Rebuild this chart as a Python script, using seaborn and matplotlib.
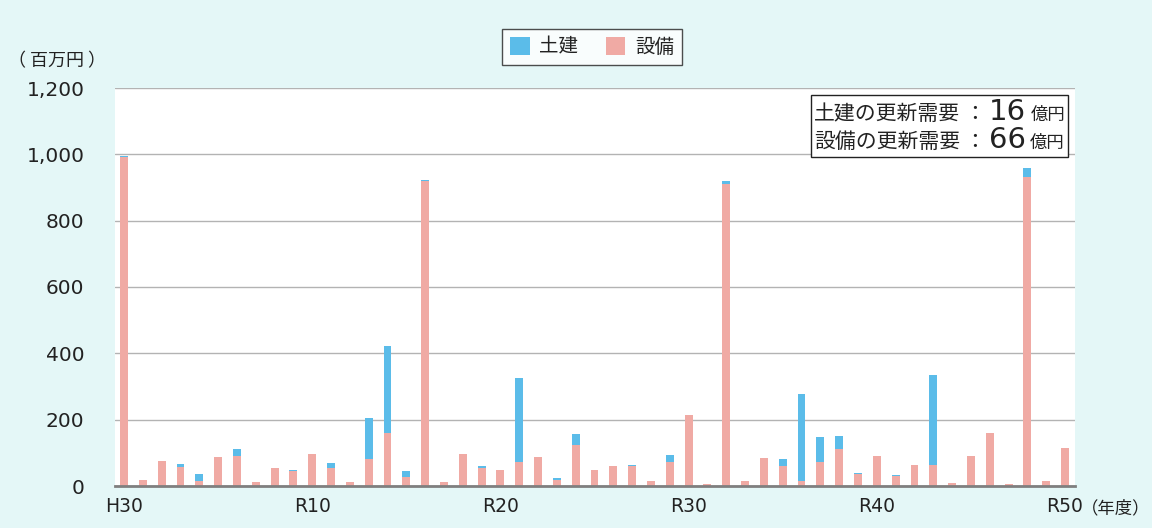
import matplotlib
matplotlib.use("Agg")
import matplotlib.pyplot as plt
from matplotlib.ticker import FuncFormatter
from matplotlib.offsetbox import TextArea, HPacker, VPacker, AnchoredOffsetbox
from matplotlib.patches import Patch
import seaborn as sns
import pandas as pd

# Fiscal years: H30 followed by R1 .. R50
years = ["H30"] + [f"R{i}" for i in range(1, 51)]

# Renewal demand per year (million yen)
civil = [2, 0, 0, 9, 19, 0, 22, 0, 0, 3, 0, 13, 0, 126, 262, 17, 2, 0, 0, 6,
         0, 254, 0, 5, 32, 0, 0, 5, 0, 19, 0, 0, 9, 0, 0, 20, 264, 74, 39, 2,
         0, 4, 2, 274, 0, 0, 0, 0, 27, 0, 0]
equipment = [992, 17, 74, 56, 16, 86, 91, 11, 55, 44, 95, 55, 11, 80, 161, 27,
             920, 12, 97, 55, 47, 73, 86, 18, 124, 47, 59, 59, 14, 73, 213, 5,
             912, 16, 85, 60, 14, 73, 112, 37, 90, 29, 62, 62, 8, 89, 161, 7,
             933, 14, 116]

tick_years = ["H30", "R10", "R20", "R30", "R40", "R50"]
y_ticks = [0, 200, 400, 600, 800, 1000, 1200]
series_names = ["土建", "設備"]
summary_labels = ["土建の更新需要", "設備の更新需要"]
summary_values = ["16", "66"]
summary_unit = "億円"

COLOR_CIVIL = "#5bbce9"
COLOR_EQUIP = "#f0aaa4"
BG = "#e4f7f7"
TEXT = "#222222"
JP = ["Noto Sans CJK JP", "DejaVu Sans"]

sns.set_theme(style="white")
plt.rcParams["font.family"] = ["DejaVu Sans", "Noto Sans CJK JP"]

df = pd.DataFrame({"year": years, "civil": civil, "equipment": equipment})
df["total"] = df["civil"] + df["equipment"]

fig = plt.figure(figsize=(11.52, 5.28), dpi=100, facecolor=BG)
ax = fig.add_axes([115 / 1152, 42 / 528, 960 / 1152, 398 / 528])
ax.set_facecolor("white")

# Stacked bars: total in the civil colour, equipment drawn over it from zero
sns.barplot(data=df, x="year", y="total", order=years, color=COLOR_CIVIL,
            width=0.42, saturation=1, ax=ax, zorder=3, linewidth=0)
sns.barplot(data=df, x="year", y="equipment", order=years, color=COLOR_EQUIP,
            width=0.42, saturation=1, ax=ax, zorder=4, linewidth=0)

ax.set_xlim(-0.48, 50.53)
ax.set_ylim(0, 1200)
ax.set_yticks(y_ticks)
ax.yaxis.set_major_formatter(FuncFormatter(lambda v, p: f"{int(v):,}"))
ax.set_xticks([years.index(t) for t in tick_years])
ax.set_xticklabels(tick_years)
ax.set_xlabel("")
ax.set_ylabel("")

ax.grid(axis="y", color="#b3b3b3", linewidth=1.0, zorder=0)
ax.grid(axis="x", visible=False)
for side in ("left", "right", "top"):
    ax.spines[side].set_visible(False)
ax.spines["bottom"].set_color("#7f7f7f")
ax.spines["bottom"].set_linewidth(2.0)
ax.spines["bottom"].set_zorder(5)

ax.tick_params(axis="y", length=0, pad=22, labelsize=14.5, colors=TEXT)
ax.tick_params(axis="x", length=0, pad=8, labelsize=13.5, colors=TEXT)

# Axis units
fig.text(57 / 1152, 1 - 61 / 528, "（ 百万円 ）", ha="center", va="center",
         fontsize=13, color=TEXT, family=JP)
fig.text(1116 / 1152, 1 - 508 / 528, "（年度）", ha="center", va="center",
         fontsize=12.5, color=TEXT, family=JP)

# Legend
handles = [Patch(facecolor=COLOR_CIVIL, edgecolor="none"),
           Patch(facecolor=COLOR_EQUIP, edgecolor="none")]
leg = fig.legend(handles, series_names, loc="center",
                 bbox_to_anchor=(592 / 1152, 1 - 47 / 528), ncol=2,
                 frameon=True, fancybox=False,
                 prop=dict(family=JP, size=14),
                 handlelength=1.0, handleheight=1.0, handletextpad=0.5,
                 columnspacing=1.4, borderpad=0.4, edgecolor=TEXT,
                 facecolor="white")
leg.get_frame().set_linewidth(1.0)
for t in leg.get_texts():
    t.set_color(TEXT)

# Summary box with mixed-size text
rows = []
for lab, val in zip(summary_labels, summary_values):
    rows.append(HPacker(children=[
        TextArea(lab, textprops=dict(fontsize=15, color=TEXT, family=JP)),
        TextArea("：", textprops=dict(fontsize=15, color=TEXT, family=JP)),
        TextArea(val, textprops=dict(fontsize=21, color=TEXT)),
        TextArea(summary_unit, textprops=dict(fontsize=12.5, color=TEXT, family=JP)),
    ], align="baseline", pad=0, sep=3))
box = VPacker(children=rows, align="left", pad=0, sep=0)
anchored = AnchoredOffsetbox(loc="upper right", child=box, pad=0.2,
                             borderpad=0.45, frameon=True,
                             bbox_to_anchor=(1.0, 1.0),
                             bbox_transform=ax.transAxes)
anchored.patch.set_edgecolor(TEXT)
anchored.patch.set_linewidth(1.0)
anchored.patch.set_facecolor("white")
anchored.set_zorder(10)
ax.add_artist(anchored)

fig.savefig("out.png", dpi=100, facecolor=BG)
